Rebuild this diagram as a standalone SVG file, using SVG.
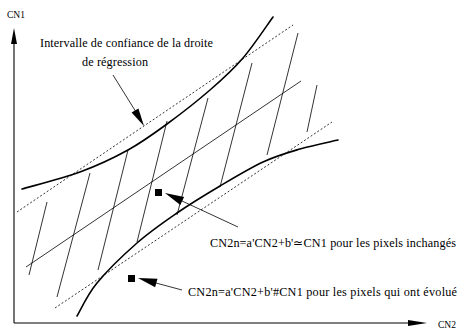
<svg xmlns="http://www.w3.org/2000/svg" width="461" height="331" viewBox="0 0 461 331">
<style>
.axis{stroke:#000;stroke-width:1.1;fill:none}
.thick{stroke:#000;stroke-width:1.6;fill:none;stroke-linecap:round}
.thin{stroke:#000;stroke-width:0.8;fill:none}
.dot{stroke:#000;stroke-width:0.8;fill:none;stroke-dasharray:2 2}
.head{fill:#000;stroke:none}
text{font-family:"Liberation Serif","Times New Roman",serif;fill:#000}
.lbl{font-size:12.2px}
</style>
<rect width="461" height="331" fill="#fff"/>
<g id="axes">
  <line class="axis" x1="14" y1="40" x2="14" y2="323"/>
  <polygon class="head" points="14,28 11,44 17,44"/>
  <line class="axis" x1="14" y1="323" x2="412" y2="323"/>
  <polygon class="head" points="427,323 408,320 408,326"/>
  <text x="7" y="18" font-size="9.5" textLength="18" lengthAdjust="spacingAndGlyphs">CN1</text>
  <text x="438" y="328" font-size="9.5" textLength="18" lengthAdjust="spacingAndGlyphs">CN2</text>
</g>
<g id="band">
  <path class="thick" d="M22,189 C31.7,186.2 62.3,178.5 80,172 C97.7,165.5 113.5,158 128,150 C142.5,142 153.3,134 167,124 C180.7,114 197.3,101 210,90 C222.7,79 232.5,70.2 243,58 C253.5,45.8 268,23.8 273,17"/>
  <path class="thick" d="M77,316 C80.3,310.5 87,295.2 97,283 C107,270.8 123.7,254.7 137,243 C150.3,231.3 163.2,222.5 177,213 C190.8,203.5 205.7,194.5 220,186 C234.3,177.5 249.7,168.2 263,162 C276.3,155.8 287.5,152.7 300,149 C312.5,145.3 331.7,141.5 338,140"/>
  <line class="dot" x1="17" y1="212" x2="293" y2="25"/>
  <line class="dot" x1="55" y1="308" x2="332" y2="122"/>
  <line class="thin" x1="26" y1="267" x2="301" y2="81"/>
</g>
<g id="hatch">
  <line class="thin" x1="47" y1="202" x2="29" y2="275"/>
  <line class="thin" x1="90" y1="173" x2="57" y2="297"/>
  <line class="thin" x1="128" y1="150" x2="98" y2="270"/>
  <line class="thin" x1="167" y1="121" x2="137" y2="242"/>
  <line class="thin" x1="208" y1="98" x2="177" y2="215"/>
  <line class="thin" x1="252" y1="63" x2="220" y2="187"/>
  <line class="thin" x1="298" y1="33" x2="267" y2="155"/>
  <line class="thin" x1="317" y1="85" x2="307" y2="132"/>
</g>
<g id="label-interval">
  <text class="lbl" x="40" y="47" textLength="173" lengthAdjust="spacing">Intervalle de confiance de la droite</text>
  <text class="lbl" x="82" y="65.5" textLength="66" lengthAdjust="spacing">de régression</text>
</g>
<g id="label-unchanged">
  <rect x="155" y="189" width="7" height="7" fill="#000"/>
  <text class="lbl" x="210" y="246.5" textLength="246" lengthAdjust="spacing">CN2n=a'CN2+b'≃CN1 pour les pixels inchangés</text>
</g>
<g id="label-changed">
  <rect x="128" y="275" width="7" height="7" fill="#000"/>
  <text class="lbl" x="188" y="295.5" textLength="269" lengthAdjust="spacing">CN2n=a'CN2+b'#CN1  pour les pixels qui ont évolué</text>
</g>
<g id="connectors">
  <line class="thin" x1="113" y1="75" x2="136" y2="112"/>
  <polygon class="head" points="144,126 131.6,112.6 138.4,108.4"/>
  <line class="thin" x1="238" y1="227" x2="182" y2="201"/>
  <polygon class="head" points="165,193 184.1,196.9 180.3,205.1"/>
  <line class="thin" x1="182" y1="290" x2="156" y2="283"/>
  <polygon class="head" points="138,278 157.5,278.7 155.1,287.3"/>
</g>
</svg>
